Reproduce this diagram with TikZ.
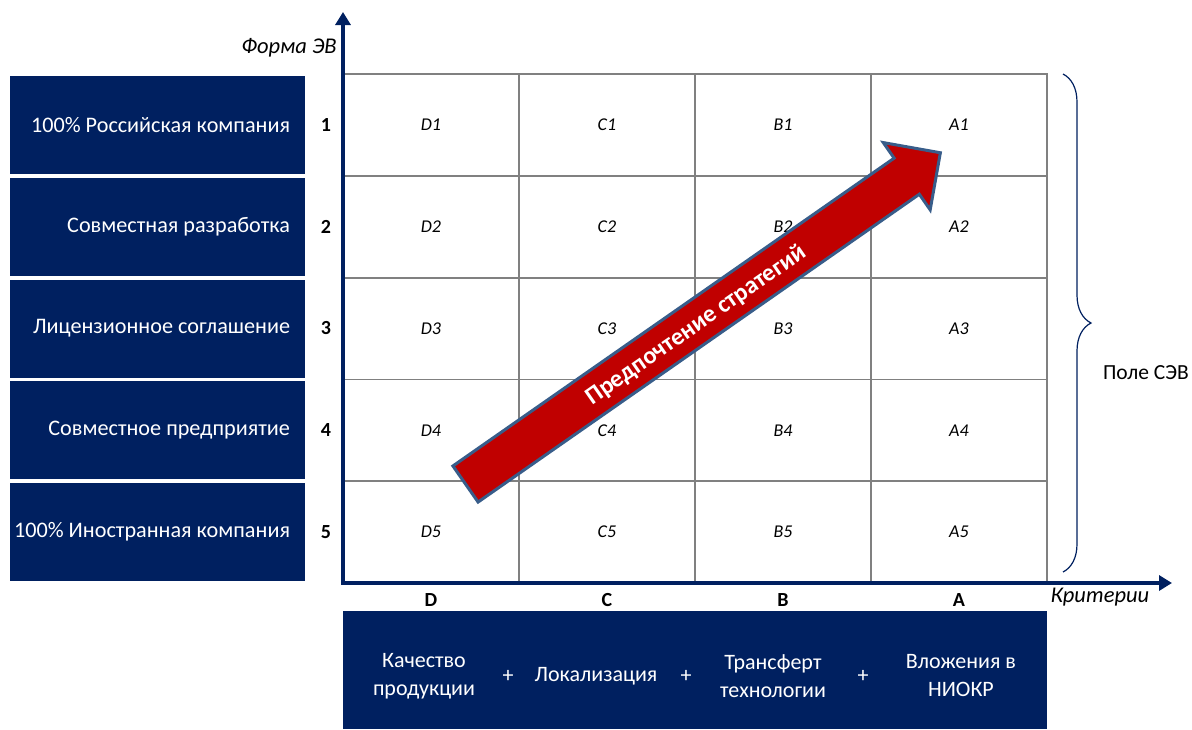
\documentclass[tikz,border=0pt]{standalone}
\usepackage{fontspec}
\setmainfont{Carlito}
\usetikzlibrary{arrows.meta, positioning, decorations.pathreplacing}

\definecolor{evnavy}{RGB}{0,32,96}
\definecolor{evred}{RGB}{192,0,0}
\definecolor{evedge}{RGB}{56,93,138}

\begin{document}
\begin{tikzpicture}[
  x=1pt, y=1pt,
  cell/.style={draw=gray, line width=1.8pt, minimum width=176pt, minimum height=101.8pt, inner sep=0pt, font=\fontsize{18}{21}\selectfont\itshape},
  formbox/.style={fill=evnavy, text=white, minimum height=98pt, minimum width=295pt, inner xsep=15pt, font=\fontsize{22.2}{26}\selectfont},
  rownum/.style={font=\fontsize{20}{24}\selectfont\bfseries},
  crit/.style={text=white, align=center, font=\fontsize{22}{28}\selectfont},
  axis/.style={evnavy, line width=4.5pt, {Triangle[length=13pt,width=15pt]}-{Triangle[length=13pt,width=15pt]}},
  axlabel/.style={font=\fontsize{22.5}{26}\selectfont\itshape}
]
  \useasboundingbox (0,0) rectangle (1192,-729);

  % matrix of strategies, columns D..A, rows 1..5
  \foreach \col [count=\i from 0] in {D,C,B,A} {
    \foreach \row in {1,...,5}
      \node[cell] (\col\row) at (431+176*\i, -124.9-101.8*\row+101.8) {\col\row};
    \node[rownum] (lab\col) at (431+176*\i, -600) {\col};
  }

  % forms of entry on the left (text flush right, may run past the padding)
  \foreach \txt [count=\r] in {100\% Российская компания, Совместная разработка,
      Лицензионное соглашение, Совместное предприятие, 100\% Иностранная компания} {
    \node[formbox] (form\r) at (157.5, -124.9-101.8*\r+101.8) {\makebox[265pt][r]{\txt}};
    \node[rownum] (num\r) at (326, -124.9-101.8*\r+101.8) {\r};
  }

  % axes
  \coordinate (origin) at (343,-583);
  \coordinate (ytip) at (343,-12);
  \coordinate (xtip) at (1172,-583);
  \draw[axis] (ytip) -- (origin) -- (xtip);
  \node[axlabel] (yname) at (289,-48) {Форма ЭВ};
  \node[axlabel] (xname) at (1100,-597) {Критерии};

  % criteria under the matrix
  \node[fill=evnavy, minimum width=704pt, minimum height=118pt, inner sep=0pt] (critbox) at (695,-670) {};
  \node[crit] (crit1) at (424,-676) {Качество\\продукции};
  \node[crit] (plus1) at (508,-676) {+};
  \node[crit] (crit2) at (596,-676) {Локализация};
  \node[crit] (plus2) at (686,-676) {+};
  \node[crit] (crit3) at (773,-676) {Трансферт\\технологии};
  \node[crit] (plus3) at (863,-676) {+};
  \node[crit] (crit4) at (961,-676) {Вложения в\\НИОКР};

  % brace over the whole field
  \coordinate (bracetop) at (1063,-74);
  \coordinate (bracebot) at (1063,-572);
  \draw[evnavy, line width=1.2pt, decorate, decoration={brace, amplitude=28pt}] (bracetop) -- (bracebot);
  \node[font=\fontsize{21.5}{25}\selectfont] (field) at (1146,-373) {Поле СЭВ};

  % preference arrow
  \begin{scope}[shift={(465.5,-484)}, rotate=34.9]
    \draw[fill=evred, draw=evedge, line width=3pt, line join=miter]
      (0,-22) -- (538,-22) -- (538,-41) -- (579,0) -- (538,41) -- (538,22) -- (0,22) -- cycle;
    \node[text=white, font=\fontsize{24.5}{28}\selectfont\bfseries, rotate=34.9] (pref) at (280,-2) {Предпочтение стратегий};
  \end{scope}
\end{tikzpicture}
\end{document}
